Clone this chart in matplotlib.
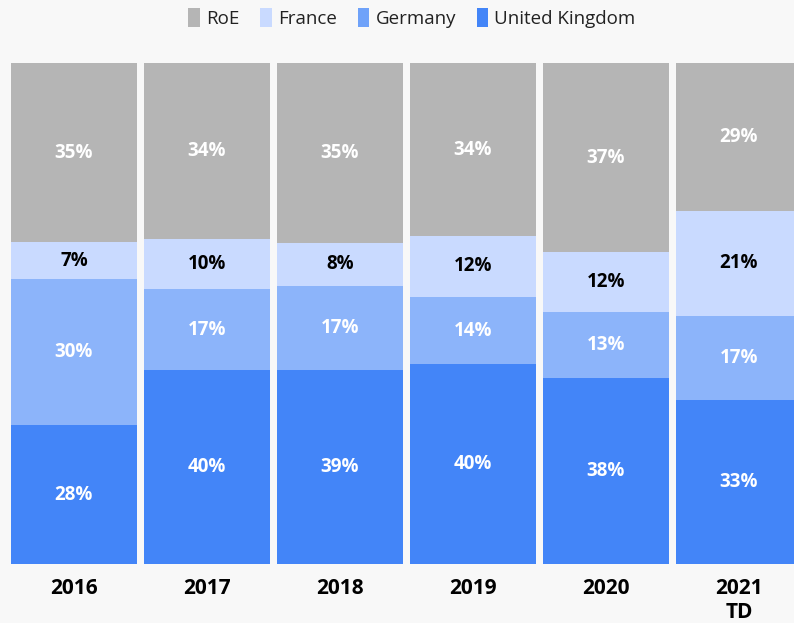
import matplotlib
matplotlib.use("Agg")
import matplotlib.pyplot as plt
from matplotlib.patches import Patch
import numpy as np

categories = ["2016", "2017", "2018", "2019", "2020", "2021\nTD"]
# shown labels (rounded percentages)
uk_lbl = [28, 40, 39, 40, 38, 33]
germany_lbl = [30, 17, 17, 14, 13, 17]
france_lbl = [7, 10, 8, 12, 12, 21]
roe_lbl = [35, 34, 35, 34, 37, 29]
# segment shares as drawn
uk = [27.7, 38.7, 38.7, 39.9, 37.1, 32.7]
germany = [29.1, 16.2, 16.8, 13.4, 13.2, 16.8]
france = [7.4, 10.0, 8.6, 12.2, 12.0, 21.0]
roe = [35.7, 35.1, 35.9, 34.5, 37.7, 29.5]

series = [("United Kingdom", uk, uk_lbl, "#4385f8", "white"),
          ("Germany", germany, germany_lbl, "#8cb4fa", "white"),
          ("France", france, france_lbl, "#c9daff", "black"),
          ("RoE", roe, roe_lbl, "#b5b5b5", "white")]

plt.rcParams['font.family'] = ['Open Sans', 'DejaVu Sans']
bg = "#f8f8f8"
fig = plt.figure(figsize=(7.94, 6.23), dpi=100, facecolor=bg)
ax = fig.add_axes([0, 0.0947, 1, 0.804])
ax.set_facecolor(bg)

x = np.arange(len(categories))
totals = np.sum([s[1] for s in series], axis=0)
bottom = np.zeros(len(categories))
for name, vals, lbls, color, tcolor in series:
    h = np.array(vals) / totals * 100
    ax.bar(x, h, bottom=bottom, width=0.947, color=color, linewidth=0)
    for xi, b, hi, v in zip(x, bottom, h, lbls):
        ax.text(xi, b + hi / 2, f"{v}%", ha="center", va="center",
                color=tcolor, fontsize=13.5, fontweight="bold")
    bottom += h

ax.set_xlim(-0.556, 5.414)
ax.set_ylim(0, 100)
ax.set_xticks(x)
ax.set_xticklabels(categories, fontsize=15, fontweight="bold", linespacing=1.2)
ax.tick_params(axis="x", length=0, pad=10)
ax.set_yticks([])
for s in ax.spines.values():
    s.set_visible(False)

legend_items = [("RoE", "#b5b5b5"), ("France", "#c9daff"),
                ("Germany", "#6fa2f9"), ("United Kingdom", "#4385f8")]
handles = [Patch(facecolor=c, edgecolor="none", label=n) for n, c in legend_items]
fig.legend(handles=handles, loc="center", bbox_to_anchor=(412 / 794, 1 - 18 / 623),
           ncol=4, frameon=False, fontsize=13.5, handlelength=0.6, handleheight=1.15,
           handletextpad=0.35, columnspacing=1.1, labelcolor="#222222")

fig.savefig("out.png", dpi=100, facecolor=bg)
